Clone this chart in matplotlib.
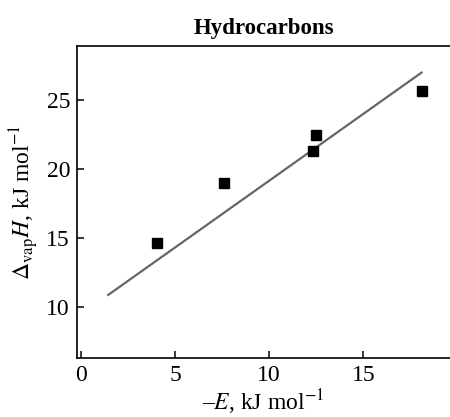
import matplotlib
matplotlib.use('Agg')
import matplotlib.pyplot as plt

# heat of vaporization vs. -E for hydrocarbons
e_vals = [4.03, 7.6, 12.32, 12.46, 18.09]
dh_vals = [14.66, 19.0, 21.3, 22.44, 25.67]

# fitted line ends
fit_x = [1.45, 18.09]
fit_y = [10.87, 26.98]

plt.rcParams['font.family'] = 'Liberation Serif'
plt.rcParams['mathtext.fontset'] = 'stix'

fig = plt.figure(figsize=(4.5, 4.17), dpi=100)
ax = fig.add_axes([0.171, 0.1415, 0.829, 0.748])

ax.plot(fit_x, fit_y, color='#666666', lw=1.6)
ax.plot(e_vals, dh_vals, ls='none', marker='s', ms=6.5, color='k')

ax.set_xlim(-0.21, 19.6)
ax.set_ylim(6.3, 28.9)
ax.set_xticks([0, 5, 10, 15])
ax.set_yticks([10, 15, 20, 25])

ax.spines['right'].set_visible(False)
for s in ['left', 'bottom', 'top']:
    ax.spines[s].set_linewidth(1.2)
ax.tick_params(direction='in', length=5, width=1.1, labelsize=17, pad=5)

ax.set_xlabel('\u2013' + r'$E$, kJ mol$^{-1}$', fontsize=17, labelpad=1)
ax.set_ylabel(r'$\Delta_{\rm vap}H$, kJ mol$^{-1}$', fontsize=17, labelpad=4)
ax.set_title('Hydrocarbons', fontsize=16.5, fontweight='bold', pad=9)

fig.savefig('out.png', dpi=100)
